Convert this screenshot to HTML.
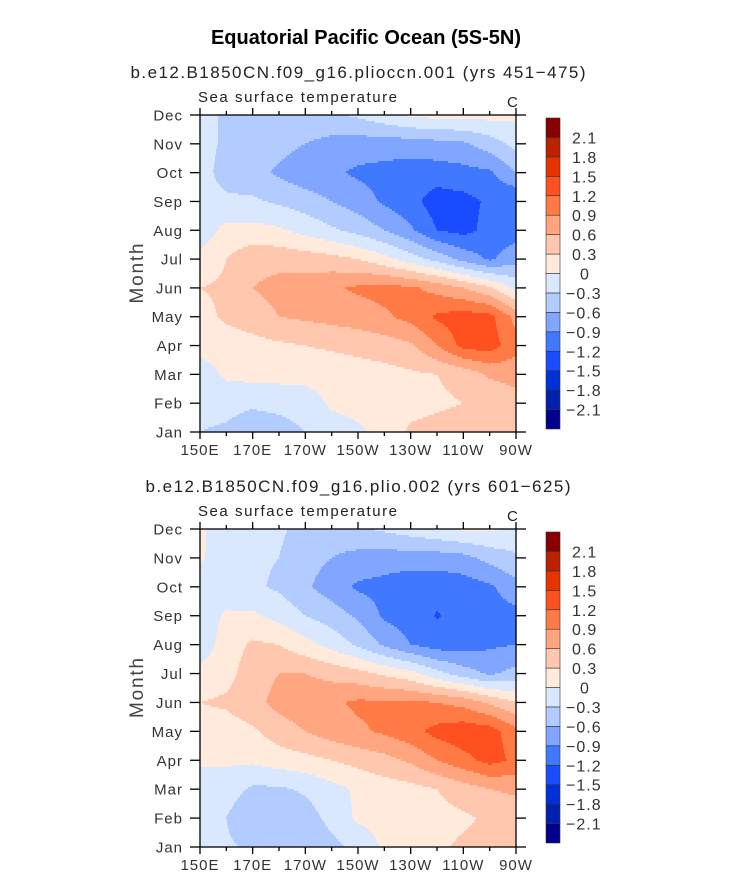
<!DOCTYPE html>
<html><head><meta charset="utf-8">
<style>
html,body{margin:0;padding:0;background:#fff;}
svg{display:block;font-family:"Liberation Sans",sans-serif;}
</style></head>
<body>
<svg id="fig" width="733" height="890" viewBox="0 0 733 890" xmlns="http://www.w3.org/2000/svg">
<text x="366" y="44" text-anchor="middle" font-size="20" font-weight="bold" fill="#000">Equatorial Pacific Ocean (5S-5N)</text>
</svg>
<script>
// ---- data ----
const months = ["Jan","Feb","Mar","Apr","May","Jun","Jul","Aug","Sep","Oct","Nov","Dec"];
const lonLabels = ["150E","170E","170W","150W","130W","110W","90W"];
const lons = [150,160,170,180,190,200,210,220,230,240,250,260,270];
const levels = [-2.1,-1.8,-1.5,-1.2,-0.9,-0.6,-0.3,0,0.3,0.6,0.9,1.2,1.5,1.8,2.1];
const levelLabels = ["-2.1","-1.8","-1.5","-1.2","-0.9","-0.6","-0.3","0","0.3","0.6","0.9","1.2","1.5","1.8","2.1"];
const colors = ["#00008b","#0020b0","#0030d8","#1a4cff","#4079ff","#80a6ff","#b3ccff","#d9e8ff","#ffeadb","#ffc7ad","#ffa680","#ff7a45","#ff5020","#e63300","#bb2200","#880000"];
const sst1 = [
 [-0.3,-0.35,-0.5,-0.45,-0.3,-0.15,-0.05,0.1,0.35,0.4,0.45,0.5,0.5],
 [-0.2,-0.2,-0.25,-0.2,-0.15,0.05,0.1,0.15,0.2,0.25,0.3,0.35,0.5],
 [-0.15,0.05,0.1,0.1,0.1,0.1,0.15,0.2,0.25,0.3,0.4,0.65,0.7],
 [0.1,0.15,0.2,0.25,0.3,0.35,0.4,0.45,0.55,0.9,1.3,1.35,1.0],
 [0.2,0.35,0.45,0.6,0.65,0.7,0.75,0.85,1.0,1.25,1.35,1.3,0.8],
 [0.3,0.35,0.6,0.7,0.75,0.85,0.95,1.0,0.95,0.8,0.6,0.35,-0.1],
 [0.1,0.3,0.5,0.5,0.45,0.4,0.3,0.1,-0.15,-0.4,-0.7,-0.95,-0.7],
 [-0.2,0.1,0.1,0.05,-0.1,-0.25,-0.4,-0.6,-0.85,-1.2,-1.3,-1.1,-1.05],
 [-0.2,-0.25,-0.25,-0.35,-0.45,-0.6,-0.75,-0.95,-1.1,-1.35,-1.3,-1.15,-1.2],
 [-0.2,-0.4,-0.5,-0.65,-0.8,-0.85,-0.95,-1.0,-1.05,-1.05,-1.0,-0.95,-0.6],
 [-0.2,-0.35,-0.45,-0.5,-0.6,-0.7,-0.75,-0.75,-0.75,-0.7,-0.65,-0.45,-0.2],
 [-0.2,-0.35,-0.45,-0.45,-0.4,-0.35,-0.25,-0.1,0.05,0.1,0.1,0.1,0.05]
];
const sst2 = [
 [-0.2,-0.25,-0.35,-0.6,-0.55,-0.4,-0.2,0.05,0.15,0.25,0.35,0.4,0.45],
 [-0.2,-0.3,-0.6,-0.6,-0.45,-0.2,0.05,0.1,0.15,0.2,0.25,0.35,0.45],
 [-0.15,-0.15,-0.35,-0.35,-0.25,-0.1,0.05,0.15,0.2,0.3,0.45,0.6,0.65],
 [0.05,0.05,0.05,0.15,0.2,0.3,0.4,0.5,0.65,0.9,1.1,1.3,1.15],
 [0.15,0.15,0.25,0.45,0.6,0.75,0.85,0.95,1.1,1.3,1.4,1.35,1.0],
 [0.3,0.35,0.5,0.7,0.8,0.85,0.95,0.95,0.95,0.9,0.8,0.55,0.3],
 [0.1,0.2,0.45,0.6,0.6,0.5,0.4,0.25,0.1,-0.2,-0.45,-0.65,-0.5],
 [-0.2,0.15,0.35,0.3,0.1,-0.1,-0.35,-0.65,-0.9,-1.05,-1.05,-0.95,-0.9],
 [-0.2,0.05,0.05,-0.1,-0.3,-0.45,-0.65,-0.95,-1.05,-1.22,-1.1,-1.05,-1.0],
 [-0.2,-0.2,-0.25,-0.35,-0.55,-0.75,-0.95,-1.0,-1.1,-1.1,-1.05,-0.95,-0.7],
 [0.05,-0.2,-0.25,-0.3,-0.5,-0.6,-0.7,-0.75,-0.75,-0.75,-0.7,-0.5,-0.35],
 [0.05,-0.15,-0.2,-0.25,-0.4,-0.45,-0.35,-0.25,-0.15,-0.05,0.05,0.05,-0.05]
];
const subtitles = ["b.e12.B1850CN.f09_g16.plioccn.001 (yrs 451\u2212475)","b.e12.B1850CN.f09_g16.plio.002 (yrs 601\u2212625)"];

// ---- drawing ----
const NS="http://www.w3.org/2000/svg";
const svg=document.getElementById('fig');
function mk(tag,attrs,parent){const e=document.createElementNS(NS,tag);for(const k in attrs)e.setAttribute(k,attrs[k]);(parent||svg).appendChild(e);return e;}
function colorFor(v){let i=0;while(i<levels.length&&v>=levels[i])i++;return colors[i];}
function sample(data,lon,m){
  let fi=(lon-lons[0])/(lons[1]-lons[0]);fi=Math.max(0,Math.min(lons.length-1,fi));
  let fj=Math.max(0,Math.min(months.length-1,m));
  const i0=Math.min(Math.floor(fi),lons.length-2),j0=Math.min(Math.floor(fj),months.length-2);
  const tx=fi-i0,ty=fj-j0;
  const a=data[j0][i0],b=data[j0][i0+1],c=data[j0+1][i0],d=data[j0+1][i0+1];
  return (a*(1-tx)+b*tx)*(1-ty)+(c*(1-tx)+d*tx)*ty;
}
function panel(p,data,L,T,R,B,cbT,cbB,subW){
  const W=R-L,H=B-T;
  const xS=lon=>L+(lon-150)/120*W;
  const xInv=x=>150+(x-L)/W*120;
  const yS=m=>B-m/11*H;
  const yInv=y=>(B-y)/H*11;
  mk('text',{x:358,y:T-37,'text-anchor':'middle','font-size':17,fill:'#222',textLength:subW,lengthAdjust:'spacing'}).textContent=subtitles[p-1];
  mk('text',{x:198,y:T-13,'font-size':15,fill:'#222',textLength:199,lengthAdjust:'spacing'}).textContent="Sea surface temperature";
  mk('text',{x:507,y:T-8,'font-size':15,fill:'#222'}).textContent="C";
  const g=mk('g',{});
  const step=2;
  for(let y=T;y<B;y+=step){
    const m=yInv(y+step/2);
    let runStart=L,runCol=null;
    for(let x=L;x<=R;x++){
      const c=x<R?colorFor(sample(data,xInv(x+0.5),m)):null;
      if(c!==runCol){
        if(runCol!==null){
          const r=mk('rect',{x:runStart,y:y,width:x-runStart+0.6,height:Math.min(step,B-y)+0.6,fill:runCol},g);
          
          
        }
        runStart=x;runCol=c;
      }
    }
  }
  const ax=mk('g',{stroke:'#000','stroke-width':1.3});
  mk('rect',{x:L,y:T,width:W,height:H,fill:'none'},ax);
  months.forEach((mn,i)=>{
    const y=yS(i);
    mk('line',{x1:L-10,y1:y,x2:L,y2:y},ax);
    mk('line',{x1:R,y1:y,x2:R+10,y2:y},ax);
    const t=mk('text',{x:183,y:y+5.5,'text-anchor':'end','font-size':15,'letter-spacing':1,fill:'#333'});
    
    
    t.textContent=mn;
  });
  for(let lon=150;lon<=270;lon+=10){
    const x=xS(lon),major=(lon-150)%20===0;
    const len=major?7:4;
    mk('line',{x1:x,y1:B,x2:x,y2:B+len},ax);
    mk('line',{x1:x,y1:T,x2:x,y2:T-len},ax);
  }
  lonLabels.forEach((lb,i)=>{
    const t=mk('text',{x:xS(150+i*20),y:B+23,'text-anchor':'middle','font-size':15,'letter-spacing':1,fill:'#333'});
    
    
    t.textContent=lb;
  });
  const cy=(T+B)/2;
  mk('text',{x:143,y:cy,'text-anchor':'middle','font-size':19,fill:'#444',textLength:60,lengthAdjust:'spacing',transform:'rotate(-90 143 '+cy+')'}).textContent="Month";
  // colorbar
  const cb=mk('g',{});
  const bh=(cbB-cbT)/colors.length;
  colors.forEach((c,i)=>{
    const r=mk('rect',{x:546,y:cbB-(i+1)*bh,width:14,height:bh,fill:c,stroke:'#333','stroke-width':0.6},cb);
    
    
  });
  levelLabels.forEach((lb,i)=>{
    const y=cbB-(i+1)*bh;
    const t=mk('text',{x:lb.startsWith('-')?566:(lb==='0'?580:572),y:y+6,'font-size':16,'letter-spacing':1,fill:'#333'},cb);
    
    
    t.textContent=lb.replace('-','\u2212');
  });
}
panel(1,sst1,200,115,516,432,118,429,455);
panel(2,sst2,200,529,516,847,532,843,425);
</script>
</body></html>
